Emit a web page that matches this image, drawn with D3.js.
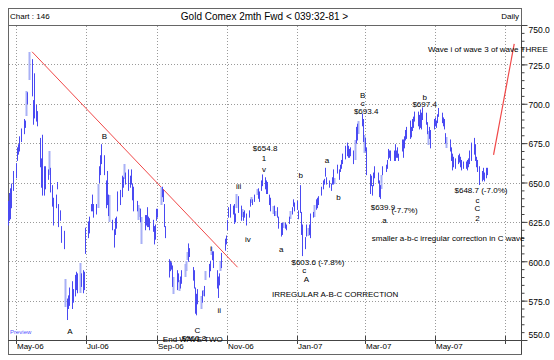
<!DOCTYPE html>
<html><head><meta charset="utf-8">
<script src="https://cdn.jsdelivr.net/npm/d3@7"></script>
<style>
body{margin:0;background:#fff}
svg{display:block}
text{font-family:"Liberation Sans",Arial,sans-serif;fill:#000}
</style>
</head><body>
<svg id="c" width="554" height="360"></svg>
<script>
// ---------------- DATA ----------------
const firstTradingDay = "2006-04-24";
// daily lows, one row per week (Mon..Fri)
const lows = [
623,626,627,634,645, 653,664,668,670,676, 681,685,692,700,715, 705,687,691,689,686,
660,647,642,642,646, 652,655,644,635,623, 634,646,622,626,612, 608,571,563,570,572,
570,574,578,582,580, 580,584,580,582,605, 615,618,632,632,628, 630,634,650,655,662,
655,634,636,629,625, 620,609,617,621,632, 636,641,647,652,649, 645,647,649,639,632,
632,626,628,625,611, 620,623,622,622,620, 619,611,614,626,628, 636,641,638,622,615,
590,594,595,584,579, 582,587,581,583,586, 590,594,601,600,603, 588,583,567,566,573,
570,574,578,578,588, 590,594,604,601,596, 583,577,585,594,596, 607,611,620,628,628,
630,624,625,634,631, 626,628,626,628,623, 628,635,637,636,638, 642,640,638,645,648,
646,643,643,636,632, 630,629,629,628,621, 616,617,621,621,620, 624,627,630,635,632,
633,627,631,617,603.6, 608,616,616,617,615, 628,628,633,634,636, 642,646,649,654,649,
647,645,649,649,649, 656,652,657,659,662, 665,667,666,666,667, 662,664,675,677,681,
686,676,669,670,655, 643,648,642,648,653, 650,641,639.9,646,655, 657,659,665,666,664,
664,664,666,666,664, 670,666,672,677,678, 678,679,683,685,689, 686,684,685,684,690,
687,681,674,678,672, 684,686,685,688,692, 688,686,684,675,672, 670,664,658,660,659,
662,663,660,658,659, 659,658,660,662,664, 668,664,660,657,648.7, 651,652,651,653,655
];
const highs = [
638,643,646,649,657, 662,672,674,679,684, 690,689,708,707,733, 728,702,719,699,695,
678,665,680,660,660, 658,670,659,648,640, 642,650,636,632,622, 619,589,576,578,583,
587,582,591,593,592, 599,592,594,593,621, 625,628,636,642,636, 636,649,660,667,674,
667,651,657,642,642, 626,620,627,628,644, 645,654,653,662,656, 658,654,658,649,647,
638,636,634,633,628, 629,629,634,628,627, 626,622,623,633,633, 647,647,645,636,622,
601,600,599,597,590, 594,592,588,590,594, 598,600,606,611,608, 596,594,583,579,582,
578,581,582,584,594, 598,600,609,606,606, 594,590,592,600,605, 614,616,626,634,636,
635,636,630,643,641, 635,633,631,632,630, 632,639,641,639,642, 646,646,644,651,654.8,
653,651,650,642,640, 635,635,632,634,628, 624,624,625,624,623, 628,632,634,639,637,
638,632,648,631,623, 615,623,621,623,630, 631,636,639,640,641, 647,651,652,659,653,
651,649,653,658,653, 661,658,661,664,668, 673,675,673,671,672, 670,677,685,687,689,
693.4,690,680,678,672, 655,654,648,656,660, 656,651,648,655,660, 661,664,671,670,670,
670,674,670,672,668, 677,677,679,683,685, 689,685,690,691.5,694.7, 694.7,692.6,696,694,697.4,
694,688,683,685,683, 690,691,689,693,697, 694,691,690,681,679, 677,672,668,666,665,
667,668,666,664,663, 663,664,665,670,675, 678,674,666,664,660, 657,659,656,659,659
];
// trading days drawn in the pale colour
const paleBars = [12,14,26,36,45,56,64,73,81,82,84,95,104,107,110,111,112,120,122,124,127,133,143,146,152,155,165,167,172,176,187,191,204,216,219,222,233,262,274];
const yTickValues = [550,575,600,625,650,675,700,725,750];
const monthTicks = ["2006-05-01","2006-07-01","2006-09-01","2006-11-01","2007-01-01","2007-03-01","2007-05-01","2007-07-01"];
const monthLabels = ["May-06","Jul-06","Sep-06","Nov-06","Jan-07","Mar-07","May-07",""];
const trendDownDates = ["2006-05-15","2006-11-10"];
const trendDownPrices = [733,596.2];
const trendUpDates = ["2007-06-21","2007-07-09"];
const trendUpPrices = [667.5,738];
const noteTexts = ["A","B","C","End WAVE TWO","$560.8","i","ii","iii","iv","v","1","$654.8","a","b","$603.6 (-7.8%)","c","A","IRREGULAR A-B-C CORRECTION","a","b","B","c","$693.4","b","$697.4","$639.9","(-7.7%)","a","$648.7 (-7.0%)","c","C","2","smaller a-b-c irregular correction in C wave","Wave i of wave 3 of wave THREE"];
const noteDates = ["2006-06-17","2006-07-17","2006-10-06","2006-10-02","2006-10-03","2006-10-18","2006-10-25","2006-11-11","2006-11-19","2006-12-03","2006-12-03","2006-12-04","2006-12-18","2007-01-04","2007-01-19","2007-01-07","2007-01-09","2007-02-03","2007-01-27","2007-02-06","2007-02-27","2007-02-27","2007-03-02","2007-04-22","2007-04-22","2007-03-06","2007-03-24","2007-03-18","2007-05-18","2007-06-07","2007-06-07","2007-06-07","2007-03-07","2007-04-25"];
const notePrices = [555.7,679.5,556.3,550.6,551.2,608.4,569,647.5,614,658.3,665.6,671.9,607.8,654.4,599.2,594.1,588.4,578.9,664,640.8,705.2,700.5,695.4,704.3,699.5,634.1,632.5,626.2,645.2,638.9,633.8,627.1,614.8,734.8];
const noteAnchors = ["m","m","m","m","m","m","m","m","m","m","m","m","m","m","m","m","m","m","m","m","m","m","m","m","m","s","s","m","s","m","m","m","s","s"];

// ---------------- LAYOUT ----------------
const L = 8, R = 521, T = 25, B = 340, TOP = 8, BOT = 354;
const parse = d3.timeParse("%Y-%m-%d");
const svg = d3.select("#c");

const x = d3.scaleTime().domain([parse("2006-05-01"), parse("2007-05-01")]).range([16, 435]);
const y = d3.scaleLinear().domain([550, 750]).range([B, T]);

// trading days
const dates = [];
{ let d = parse(firstTradingDay);
  while (dates.length < lows.length) {
    const wd = d.getDay();
    if (wd !== 0 && wd !== 6) dates.push(new Date(d));
    d = d3.timeDay.offset(d, 1);
  } }
const paleSet = new Set(paleBars);

// frame
svg.append("rect").attr("x", L + 0.5).attr("y", TOP + 0.5).attr("width", R - L).attr("height", BOT - TOP)
  .attr("fill", "none").attr("stroke", "#666");
svg.append("line").attr("x1", L).attr("x2", R).attr("y1", T + 0.5).attr("y2", T + 0.5).attr("stroke", "#666");
svg.append("line").attr("x1", L).attr("x2", R + 1).attr("y1", B + 0.5).attr("y2", B + 0.5).attr("stroke", "#444");
svg.append("line").attr("x1", R + 0.5).attr("x2", R + 0.5).attr("y1", T).attr("y2", BOT).attr("stroke", "#444");

// title
svg.append("text").attr("x", 10).attr("y", 19).attr("font-size", 8).text("Chart : 146");
svg.append("text").attr("x", (L + R) / 2).attr("y", 20).attr("font-size", 10).attr("text-anchor", "middle")
  .text("Gold Comex 2mth Fwd < 039:32-81 >");
svg.append("text").attr("x", R - 2).attr("y", 19).attr("font-size", 8).attr("text-anchor", "end").text("Daily");

// grid
const g = svg.append("g");
g.selectAll(".hg").data(yTickValues.filter(v => v > 550 && v < 750)).join("line")
  .attr("x1", L + 1).attr("x2", R).attr("y1", d => Math.round(y(d)) + 0.5).attr("y2", d => Math.round(y(d)) + 0.5)
  .attr("stroke", "#9a9a9a").attr("stroke-dasharray", "1,2");
g.selectAll(".vg").data(monthTicks).join("line")
  .attr("x1", d => Math.round(x(parse(d))) + 0.5).attr("x2", d => Math.round(x(parse(d))) + 0.5)
  .attr("y1", T + 1).attr("y2", B)
  .attr("stroke", "#9a9a9a").attr("stroke-dasharray", "1,2");

// right axis: minor + major ticks
const minor = d3.axisRight(y).tickValues(d3.range(550, 751, 5)).tickSize(3).tickFormat("");
const ga = svg.append("g").attr("transform", `translate(${R + 0.5},0)`);
ga.append("g").call(minor);
const major = d3.axisRight(y).tickValues(yTickValues).tickSize(6).tickFormat(d3.format(".1f")).tickPadding(1);
const gm = ga.append("g").call(major);
ga.selectAll(".domain").remove();
ga.selectAll(".tick line").attr("stroke", "#444");
gm.selectAll("text").attr("font-size", 8.5).attr("font-family", '"Liberation Sans",Arial,sans-serif').attr("fill", "#000")
  .attr("dy", d => d === 750 ? "0.85em" : d === 550 ? "-0.3em" : "0.45em");

// bottom axis
const bx = svg.append("g");
bx.selectAll("line").data(monthTicks).join("line")
  .attr("x1", d => Math.round(x(parse(d))) + 0.5).attr("x2", d => Math.round(x(parse(d))) + 0.5)
  .attr("y1", B - 4).attr("y2", B + 4).attr("stroke", "#444");
bx.selectAll("text").data(monthTicks).join("text")
  .attr("x", d => Math.round(x(parse(d))) + 1).attr("y", 349).attr("font-size", 8)
  .text((d, i) => monthLabels[i]);

// trend lines
const lineGen = d3.line().x(d => x(d[0])).y(d => y(d[1]));
svg.append("path").attr("d", lineGen(trendDownDates.map((d, i) => [parse(d), trendDownPrices[i]])))
  .attr("stroke", "#f04848").attr("fill", "none").attr("stroke-width", 1);
svg.append("path").attr("d", lineGen(trendUpDates.map((d, i) => [parse(d), trendUpPrices[i]])))
  .attr("stroke", "#f04848").attr("fill", "none").attr("stroke-width", 1.2);

// bars
const barIdx = d3.range(dates.length);
svg.append("g").selectAll("rect").data(barIdx.filter(i => paleSet.has(i))).join("rect")
  .attr("x", i => Math.round(x(dates[i])) - 0.5).attr("width", 2)
  .attr("y", i => Math.round(y(highs[i]))).attr("height", i => Math.max(1, Math.round(y(lows[i])) - Math.round(y(highs[i]))))
  .attr("fill", "#a9b1f6");
svg.append("g").selectAll("line").data(barIdx.filter(i => !paleSet.has(i))).join("line")
  .attr("x1", i => Math.round(x(dates[i])) + 0.5).attr("x2", i => Math.round(x(dates[i])) + 0.5)
  .attr("y1", i => y(lows[i]) + 0.5).attr("y2", i => Math.min(y(highs[i]), y(lows[i]) - 1) - 0.5)
  .attr("stroke", "#4a4af2").attr("stroke-width", 1);

// notes
svg.append("g").selectAll("text").data(noteTexts).join("text")
  .attr("x", (d, i) => x(parse(noteDates[i])))
  .attr("y", (d, i) => y(notePrices[i]))
  .attr("dy", "0.35em")
  .attr("font-size", 8)
  .attr("text-anchor", (d, i) => noteAnchors[i] === "m" ? "middle" : "start")
  .text(d => d);

svg.append("text").attr("x", 10).attr("y", 334).attr("font-size", 6).style("fill", "#5555ff").text("Preview");
</script>
</body></html>
